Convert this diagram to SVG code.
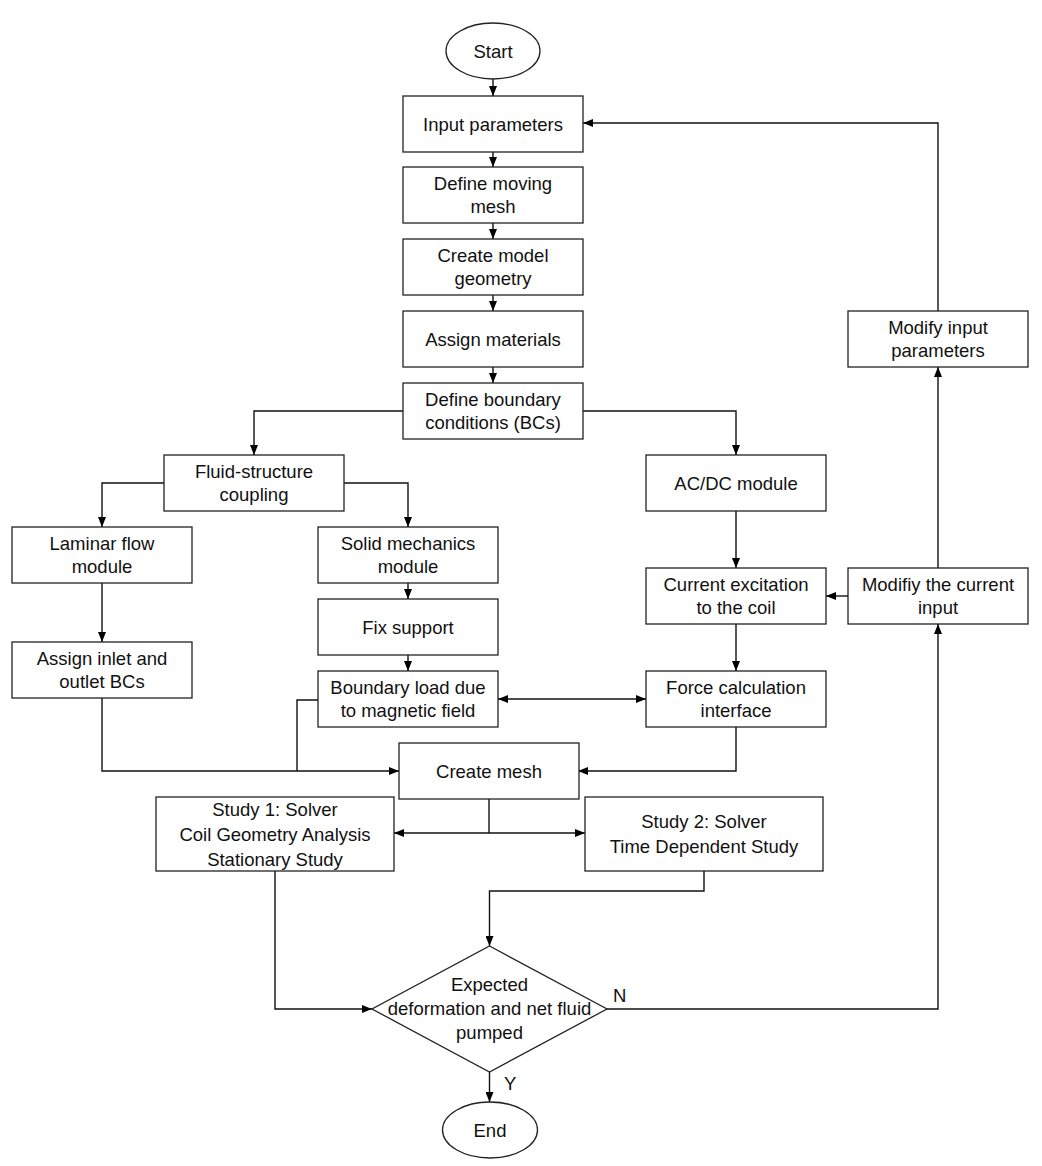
<svg xmlns="http://www.w3.org/2000/svg" width="1042" height="1166" viewBox="0 0 1042 1166">
<style>
.b{fill:#fff;stroke:#222;stroke-width:1.3}
.t{font-family:"Liberation Sans",Arial,sans-serif;font-size:18.5px;fill:#111;text-anchor:middle}
.l{font-family:"Liberation Sans",Arial,sans-serif;font-size:18.5px;fill:#111}
.c{fill:none;stroke:#111;stroke-width:1.4}
.a{marker-end:url(#ah)}
</style>
<defs>
<marker id="ah" viewBox="0 0 10 8" refX="10" refY="4" markerWidth="10" markerHeight="8" markerUnits="userSpaceOnUse" orient="auto-start-reverse">
<path d="M0,0 L10,4 L0,8 z" fill="#000"/>
</marker>
</defs>
<rect width="1042" height="1166" fill="#fff"/>
<g id="connectors">
<path class="c a" d="M493,79 V96"/>
<path class="c a" d="M493,152 V167"/>
<path class="c a" d="M493,223 V239"/>
<path class="c a" d="M493,295 V311"/>
<path class="c a" d="M493,367 V383"/>
<path class="c a" d="M403,411 H254 V455"/>
<path class="c a" d="M583,411 H736 V455"/>
<path class="c a" d="M164,483 H102 V527"/>
<path class="c a" d="M344,483 H408 V527"/>
<path class="c a" d="M102,583 V642"/>
<path class="c a" d="M408,583 V599"/>
<path class="c a" d="M408,655 V671"/>
<path class="c a" d="M102,698 V771 H399"/>
<path class="c" d="M318,700 H297 V771"/>
<path class="c a" d="M498,699 H646" marker-start="url(#ah)"/>
<path class="c a" d="M736,511 V568"/>
<path class="c a" d="M736,624 V671"/>
<path class="c a" d="M736,727 V771 H578"/>
<path class="c a" d="M848,596 H826"/>
<path class="c a" d="M938,568 V367"/>
<path class="c a" d="M938,311 V123 H583"/>
<path class="c" d="M489,799 V833"/>
<path class="c a" d="M489,833 H394"/>
<path class="c a" d="M489,833 H585"/>
<path class="c a" d="M704,871 V891 H489.5 V946"/>
<path class="c a" d="M275,871 V1009 H372"/>
<path class="c a" d="M607,1009 H938 V624"/>
<path class="c a" d="M489.5,1072 V1102"/>
<text class="l" x="613" y="1002">N</text>
<text class="l" x="504" y="1090">Y</text>
</g>
<g id="start"><ellipse class="b" cx="493" cy="51" rx="47" ry="28"/><text class="t" x="493" y="57.5">Start</text></g>
<g id="input"><rect class="b" x="403" y="96" width="180" height="56"/><text class="t" x="493" y="130.5">Input parameters</text></g>
<g id="moving"><rect class="b" x="403" y="167" width="180" height="56"/><text class="t" x="493" y="189.5">Define moving</text><text class="t" x="493" y="213">mesh</text></g>
<g id="geometry"><rect class="b" x="403" y="239" width="180" height="56"/><text class="t" x="493" y="261.5">Create model</text><text class="t" x="493" y="285">geometry</text></g>
<g id="materials"><rect class="b" x="403" y="311" width="180" height="56"/><text class="t" x="493" y="345.5">Assign materials</text></g>
<g id="bcs"><rect class="b" x="403" y="383" width="180" height="56"/><text class="t" x="493" y="405.5">Define boundary</text><text class="t" x="493" y="429">conditions (BCs)</text></g>
<g id="fsc"><rect class="b" x="164" y="455" width="180" height="56"/><text class="t" x="254" y="477.5">Fluid-structure</text><text class="t" x="254" y="501">coupling</text></g>
<g id="laminar"><rect class="b" x="12" y="527" width="180" height="56"/><text class="t" x="102" y="549.5">Laminar flow</text><text class="t" x="102" y="573">module</text></g>
<g id="solid"><rect class="b" x="318" y="527" width="180" height="56"/><text class="t" x="408" y="549.5">Solid mechanics</text><text class="t" x="408" y="573">module</text></g>
<g id="inlet"><rect class="b" x="12" y="642" width="180" height="56"/><text class="t" x="102" y="664.5">Assign inlet and</text><text class="t" x="102" y="688">outlet BCs</text></g>
<g id="fix"><rect class="b" x="318" y="599" width="180" height="56"/><text class="t" x="408" y="633.5">Fix support</text></g>
<g id="boundary"><rect class="b" x="318" y="671" width="180" height="56"/><text class="t" x="408" y="693.5">Boundary load due</text><text class="t" x="408" y="717">to magnetic field</text></g>
<g id="mesh"><rect class="b" x="399" y="743" width="180" height="56"/><text class="t" x="489" y="777.5">Create mesh</text></g>
<g id="acdc"><rect class="b" x="646" y="455" width="180" height="56"/><text class="t" x="736" y="489.5">AC/DC module</text></g>
<g id="current"><rect class="b" x="646" y="568" width="180" height="56"/><text class="t" x="736" y="590.5">Current excitation</text><text class="t" x="736" y="614">to the coil</text></g>
<g id="force"><rect class="b" x="646" y="671" width="180" height="56"/><text class="t" x="736" y="693.5">Force calculation</text><text class="t" x="736" y="717">interface</text></g>
<g id="modcur"><rect class="b" x="848" y="568" width="180" height="56"/><text class="t" x="938" y="590.5">Modifiy the current</text><text class="t" x="938" y="614">input</text></g>
<g id="modin"><rect class="b" x="848" y="311" width="180" height="56"/><text class="t" x="938" y="333.5">Modify input</text><text class="t" x="938" y="357">parameters</text></g>
<g id="study1"><rect class="b" x="156" y="797" width="238" height="74"/><text class="t" x="275" y="816">Study 1: Solver</text><text class="t" x="275" y="841">Coil Geometry Analysis</text><text class="t" x="275" y="866">Stationary Study</text></g>
<g id="study2"><rect class="b" x="585" y="797" width="238" height="74"/><text class="t" x="704" y="828">Study 2: Solver</text><text class="t" x="704" y="853">Time Dependent Study</text></g>
<g id="decision"><polygon class="b" points="489.5,946 607,1009 489.5,1072 372,1009"/><text class="t" x="489.5" y="991">Expected</text><text class="t" x="489.5" y="1015">deformation and net fluid</text><text class="t" x="489.5" y="1039">pumped</text></g>
<g id="end"><ellipse class="b" cx="490" cy="1130" rx="47.5" ry="28"/><text class="t" x="490" y="1136.5">End</text></g>
</svg>
